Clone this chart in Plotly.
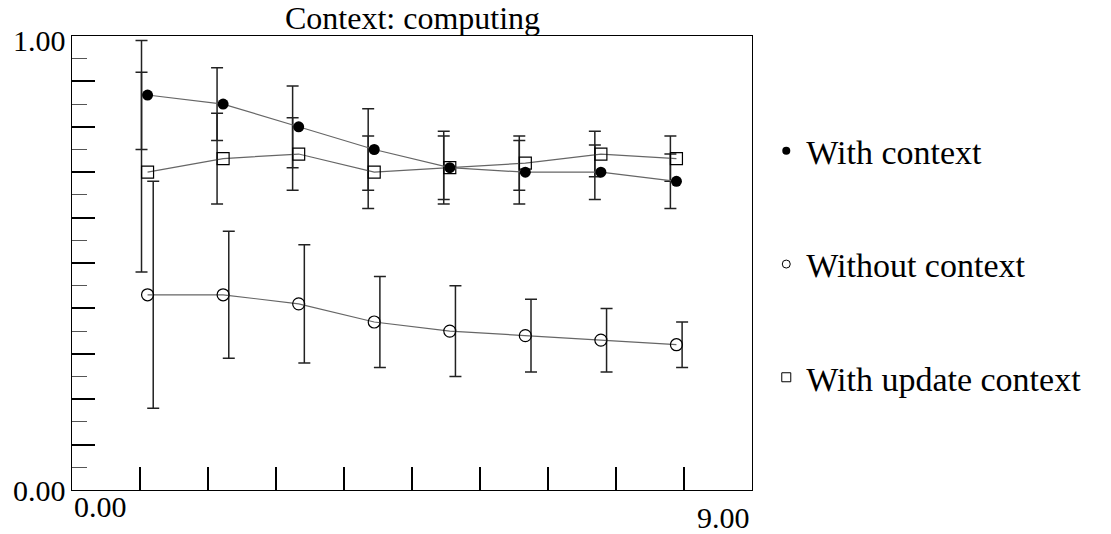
import plotly.graph_objects as go

x = [1, 2, 3, 4, 5, 6, 7, 8]
with_ctx = [0.87, 0.85, 0.80, 0.75, 0.71, 0.70, 0.70, 0.68]
with_err = [0.12, 0.08, 0.09, 0.09, 0.08, 0.07, 0.06, 0.06]
without_ctx = [0.43, 0.43, 0.41, 0.37, 0.35, 0.34, 0.33, 0.32]
without_err = [0.25, 0.14, 0.13, 0.10, 0.10, 0.08, 0.07, 0.05]
update_ctx = [0.70, 0.73, 0.74, 0.70, 0.71, 0.72, 0.74, 0.73]
update_err = [0.22, 0.10, 0.08, 0.08, 0.07, 0.06, 0.05, 0.05]

names = ["With context", "Without context", "With update context"]
title_text = "Context: computing"
x_range = [0, 9]
y_range = [0, 1]
x_labels = ["0.00", "9.00"]
y_labels = ["0.00", "1.00"]

FONT = "Liberation Serif"
ERRC = "#222222"
LINEC = "#666666"

series = [
    (with_ctx, with_err, -0.08, dict(symbol="circle", size=11, color="black")),
    (without_ctx, without_err, 0.075,
     dict(symbol="circle-open", size=12, color="black", line=dict(width=1.2, color="black"))),
    (update_ctx, update_err, -0.08,
     dict(symbol="square-open", size=12, color="black", line=dict(width=1.2, color="black"))),
]

fig = go.Figure()

# error bars (slightly offset horizontally)
for vals, errs, off, _ in series:
    fig.add_trace(go.Scatter(
        x=[xi + off for xi in x], y=vals, mode="markers",
        marker=dict(size=1, color="rgba(0,0,0,0)"),
        error_y=dict(type="data", array=errs, visible=True, color=ERRC, thickness=1.5, width=6),
        showlegend=False, hoverinfo="skip"))

# lines + markers (order: update, without, with so filled dots are on top)
for idx in [2, 1, 0]:
    vals, errs, off, mk = series[idx]
    fig.add_trace(go.Scatter(
        x=x, y=vals, mode="lines+markers",
        line=dict(color=LINEC, width=1.2),
        marker=mk, showlegend=False, name=names[idx]))

# legend entries
legend_markers = [
    dict(symbol="circle", size=8, color="black"),
    dict(symbol="circle-open", size=8, color="black", line=dict(width=1, color="black")),
    dict(symbol="square-open", size=9, color="black", line=dict(width=1, color="black")),
]
for i, nm in enumerate(names):
    fig.add_trace(go.Scatter(x=[None], y=[None], mode="markers", marker=legend_markers[i],
                             name=nm, legendgroup=nm, showlegend=True))

annotations = [
    dict(text=title_text, x=0.5, y=1, xref="paper", yref="paper", xanchor="center", yanchor="bottom",
         showarrow=False, font=dict(family=FONT, size=32, color="black"), yshift=-2),
    dict(text=x_labels[0], x=x_range[0], y=0, xref="x", yref="paper", xanchor="left", yanchor="top",
         showarrow=False, font=dict(family=FONT, size=30, color="black"), yshift=2),
    dict(text=x_labels[1], x=x_range[1], y=0, xref="x", yref="paper", xanchor="right", yanchor="top",
         showarrow=False, font=dict(family=FONT, size=30, color="black"), yshift=-9),
    dict(text=y_labels[0], x=0, y=y_range[0], xref="paper", yref="y", xanchor="right", yanchor="middle",
         showarrow=False, font=dict(family=FONT, size=30, color="black"), xshift=-4),
    dict(text=y_labels[1], x=0, y=y_range[1], xref="paper", yref="y", xanchor="right", yanchor="middle",
         showarrow=False, font=dict(family=FONT, size=30, color="black"), xshift=-4, yshift=-4),
]

fig.update_layout(
    width=1111, height=534,
    margin=dict(l=72, r=359, t=36, b=44),
    plot_bgcolor="white", paper_bgcolor="white",
    font=dict(family=FONT, color="black"),
    annotations=annotations,
    legend=dict(x=1.021, y=0.81, xanchor="left", yanchor="top",
                font=dict(family=FONT, size=34, color="black"),
                tracegroupgap=66, bgcolor="rgba(0,0,0,0)"),
    xaxis=dict(range=x_range, showline=True, mirror=True, linecolor="black", linewidth=1,
               ticks="inside", tick0=0, dtick=0.9, ticklen=23, tickwidth=2, tickcolor="black",
               showticklabels=False, showgrid=False, zeroline=False),
    yaxis=dict(range=y_range, showline=True, mirror=True, linecolor="black", linewidth=1,
               ticks="inside", tick0=0, dtick=0.1, ticklen=23, tickwidth=2, tickcolor="black",
               minor=dict(dtick=0.05, ticks="inside", ticklen=15, tickwidth=1, tickcolor="#555555"),
               showticklabels=False, showgrid=False, zeroline=False),
)

fig.write_html("out.html", config={"displayModeBar": False},
               post_script="document.body.style.margin='0';")
